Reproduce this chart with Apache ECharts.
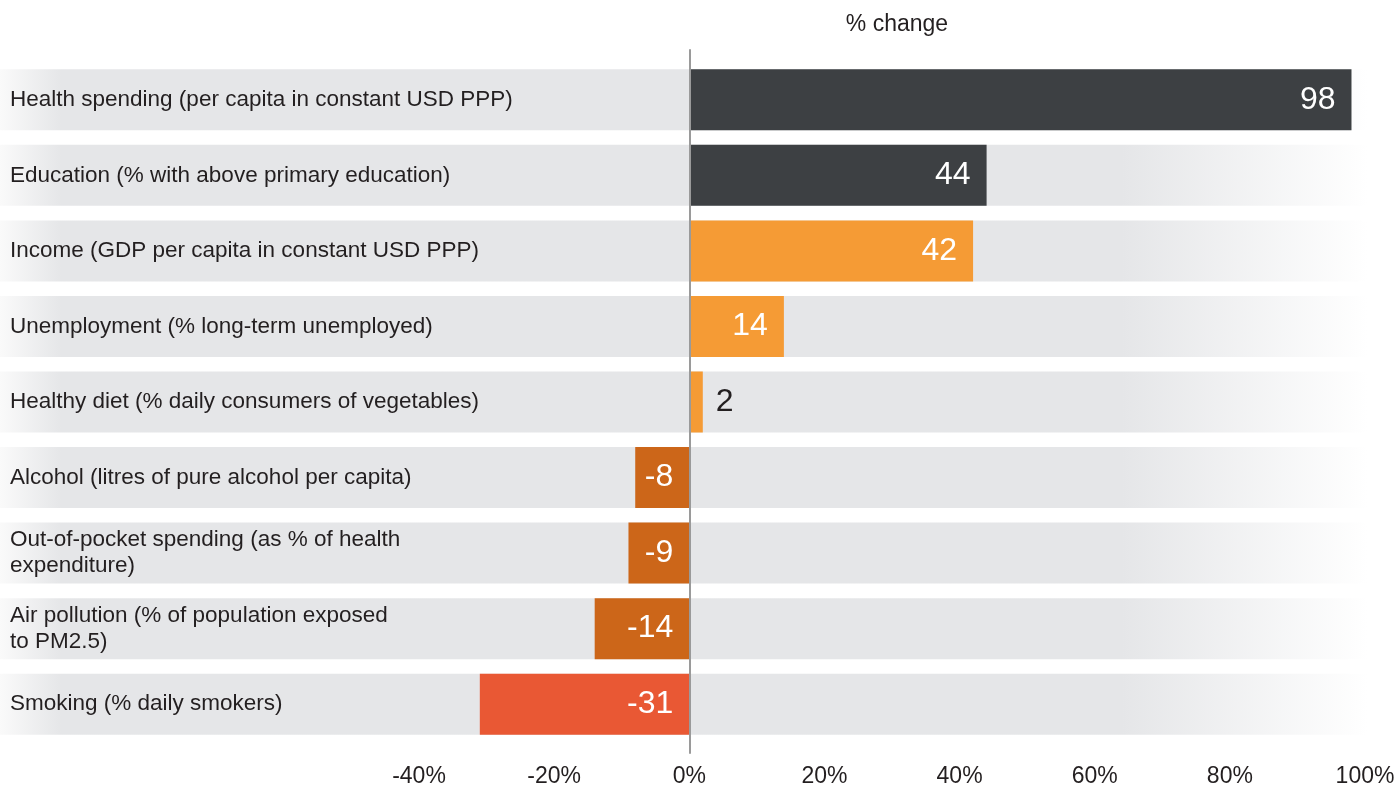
<!DOCTYPE html>
<html>
<head>
<meta charset="utf-8">
<script src="https://cdn.jsdelivr.net/npm/echarts@6/dist/echarts.min.js"></script>
<style>
  html, body { margin: 0; padding: 0; background: #fff; }
  #main { width: 1398px; height: 789px; }
</style>
</head>
<body>
<div id="main"></div>
<script>
// data
var categories = [
  'Health spending (per capita in constant USD PPP)',
  'Education (% with above primary education)',
  'Income (GDP per capita in constant USD PPP)',
  'Unemployment (% long-term unemployed)',
  'Healthy diet (% daily consumers of vegetables)',
  'Alcohol (litres of pure alcohol per capita)',
  'Out-of-pocket spending (as % of health\nexpenditure)',
  'Air pollution (% of population exposed\nto PM2.5)',
  'Smoking (% daily smokers)'
];
var values = [98, 44, 42, 14, 2, -8, -9, -14, -31];
var barColors = ['#3d4043', '#3d4043', '#f59b35', '#f59b35', '#f59b35', '#cc6619', '#cc6619', '#cc6619', '#e95834'];
var xTicks = [-40, -20, 0, 20, 40, 60, 80, 100];

var font = '"Liberation Sans", Arial, Helvetica, sans-serif';
var gridTop = 62, gridBottom = 47, gridLeft = 419, gridRight = 33;

var chart = echarts.init(document.getElementById('main'));

var barData = values.map(function (v, i) {
  var inside = Math.abs(v) >= 5;
  return {
    value: v,
    itemStyle: { color: barColors[i] },
    label: {
      show: true,
      position: inside ? 'insideRight' : 'right',
      distance: inside ? 16 : 13,
      color: inside ? '#ffffff' : '#231f20',
      fontSize: 32,
      fontFamily: font
    }
  };
});

var bgData = categories.map(function () { return 1; });

chart.setOption({
  backgroundColor: '#ffffff',
  animation: false,
  title: {
    text: '% change',
    left: (gridLeft + (1398 - gridRight)) / 2,
    top: 8,
    textAlign: 'center',
    textStyle: { fontSize: 23, fontWeight: 'normal', color: '#231f20', fontFamily: font }
  },
  grid: [
    { left: gridLeft, right: gridRight, top: gridTop, bottom: gridBottom },
    { left: 0, right: 30, top: gridTop, bottom: gridBottom },
    { left: gridLeft, right: gridRight, top: 50, bottom: 36 }
  ],
  xAxis: [
    {
      gridIndex: 0,
      type: 'value',
      min: xTicks[0],
      max: xTicks[xTicks.length - 1],
      interval: 20,
      axisLine: { show: false },
      axisTick: { show: false },
      splitLine: { show: false },
      axisLabel: {
        formatter: '{value}%',
        fontSize: 23,
        color: '#231f20',
        fontFamily: font,
        margin: 23
      }
    },
    { gridIndex: 1, type: 'value', min: 0, max: 1, show: false },
    { gridIndex: 2, type: 'value', min: xTicks[0], max: xTicks[xTicks.length - 1], show: false }
  ],
  yAxis: [
    {
      gridIndex: 0,
      type: 'category',
      inverse: true,
      data: categories,
      z: 5,
      axisLine: { show: false },
      axisTick: { show: false },
      axisLabel: {
        align: 'left',
        margin: gridLeft - 10,
        fontSize: 22.5,
        lineHeight: 26,
        color: '#231f20',
        fontFamily: font
      }
    },
    {
      gridIndex: 1,
      type: 'category',
      inverse: true,
      data: categories,
      show: false
    },
    {
      gridIndex: 2,
      type: 'value',
      min: 0,
      max: 1,
      z: 10,
      axisLine: { show: true, onZero: true, lineStyle: { color: '#9a9a9a', width: 2 } },
      axisTick: { show: false },
      axisLabel: { show: false },
      splitLine: { show: false }
    }
  ],
  series: [
    {
      type: 'bar',
      xAxisIndex: 1,
      yAxisIndex: 1,
      data: bgData,
      barWidth: 61,
      z: 1,
      silent: true,
      itemStyle: {
        color: new echarts.graphic.LinearGradient(0, 0, 1, 0, [
          { offset: 0, color: '#fafafa' },
          { offset: 0.045, color: '#e5e6e8' },
          { offset: 0.82, color: '#e5e6e8' },
          { offset: 1, color: '#ffffff' }
        ])
      }
    },
    {
      type: 'bar',
      xAxisIndex: 0,
      yAxisIndex: 0,
      data: barData,
      barWidth: 61,
      z: 3
    }
  ]
});
</script>
</body>
</html>
